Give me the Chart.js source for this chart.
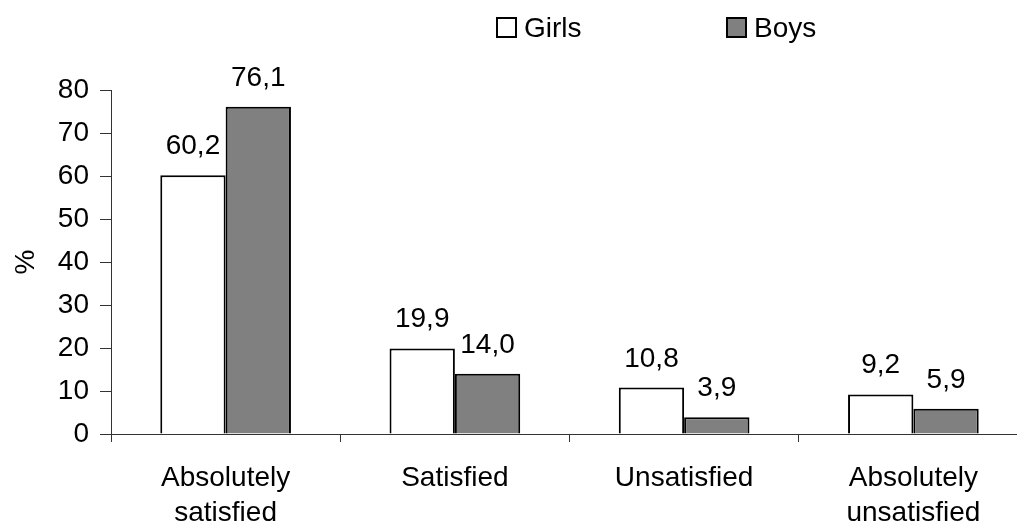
<!DOCTYPE html>
<html>
<head>
<meta charset="utf-8">
<script src="https://cdn.jsdelivr.net/npm/chart.js@4/dist/chart.umd.min.js"></script>
<style>
  html, body { margin: 0; padding: 0; background: #fff; overflow: hidden; }
  /* the original plot runs a little past the right edge of the picture */
  #wrap { width: 1028px; height: 528px; }
</style>
</head>
<body>
<div id="wrap"><canvas id="myChart"></canvas></div>
<script>
// data
const categories = [["Absolutely", "satisfied"], "Satisfied", "Unsatisfied", ["Absolutely", "unsatisfied"]];
const girls = [60.2, 19.9, 10.8, 9.2];
const boys = [76.1, 14.0, 3.9, 5.9];
const yTicks = [0, 10, 20, 30, 40, 50, 60, 70, 80];

const font = "'Liberation Sans', Arial, sans-serif";

// values above bars, with comma as decimal mark
const valueLabels = {
  id: 'valueLabels',
  afterDatasetsDraw(chart) {
    const ctx = chart.ctx;
    ctx.save();
    ctx.font = "28px " + font;
    ctx.fillStyle = '#000';
    ctx.textAlign = 'center';
    ctx.textBaseline = 'alphabetic';
    chart.data.datasets.forEach((ds, i) => {
      chart.getDatasetMeta(i).data.forEach((bar, j) => {
        ctx.fillText(ds.data[j].toFixed(1).replace('.', ','), bar.x, bar.y - 21);
      });
    });
    ctx.restore();
  }
};

// legend at top, placed like the original
const topLegend = {
  id: 'topLegend',
  afterDraw(chart) {
    const ctx = chart.ctx;
    const spots = [497, 727];
    ctx.save();
    ctx.font = "28px " + font;
    ctx.textBaseline = 'alphabetic';
    chart.data.datasets.forEach((ds, i) => {
      const x = spots[i];
      ctx.fillStyle = ds.backgroundColor;
      ctx.fillRect(x, 18, 19, 19);
      ctx.strokeStyle = '#000';
      ctx.lineWidth = 2;
      ctx.strokeRect(x, 18, 19, 19);
      ctx.fillStyle = '#000';
      ctx.fillText(ds.label, x + 27, 37);
    });
    ctx.restore();
  }
};

const myChart = document.getElementById('myChart');

new Chart(myChart, {
  type: 'bar',
  data: {
    labels: categories,
    datasets: [
      {
        label: 'Girls',
        data: girls,
        backgroundColor: '#ffffff',
        borderColor: '#000000',
        borderWidth: 2
      },
      {
        label: 'Boys',
        data: boys,
        backgroundColor: '#808080',
        borderColor: '#000000',
        borderWidth: 2
      }
    ]
  },
  options: {
    responsive: true,
    maintainAspectRatio: false,
    animation: false,
    layout: { padding: { top: 90, right: 0, left: 0, bottom: 0 } },
    datasets: { bar: { categoryPercentage: 0.57, barPercentage: 1.0 } },
    plugins: {
      legend: { display: false },
      tooltip: { enabled: false }
    },
    scales: {
      x: {
        afterFit: scale => { scale.height = 94; },
        grid: { display: true, offset: true, drawOnChartArea: false, drawTicks: true, tickLength: 8, color: '#333' },
        border: { color: '#333', width: 1 },
        ticks: { color: '#000', font: { family: font, size: 28, lineHeight: 1.25 }, maxRotation: 0, padding: 19 }
      },
      y: {
        min: 0,
        max: 80,
        afterFit: scale => { scale.width = 111; },
        afterBuildTicks: axis => { axis.ticks = yTicks.map(v => ({ value: v })); },
        grid: { display: true, drawOnChartArea: false, drawTicks: true, tickLength: 11, color: '#333' },
        border: { color: '#333', width: 1 },
        ticks: { color: '#000', font: { family: font, size: 28 }, padding: 11 },
        title: { display: true, text: '%', color: '#000', font: { family: font, size: 28 }, padding: { top: 9, bottom: 17 } }
      }
    }
  },
  plugins: [valueLabels, topLegend]
});
</script>
</body>
</html>
